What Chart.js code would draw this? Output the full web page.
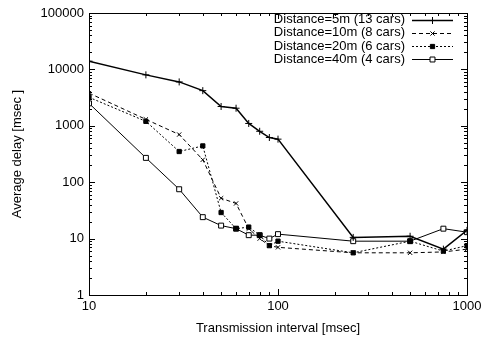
<!DOCTYPE html>
<html>
<head>
<meta charset="utf-8">
<script src="https://cdn.jsdelivr.net/npm/chart.js@4/dist/chart.umd.min.js"></script>
<style>
  html, body { margin: 0; padding: 0; background: #fff; }
  #wrap { width: 487px; height: 344px; }
</style>
</head>
<body>
<div id="wrap"><canvas id="delayChart" width="487" height="344"></canvas></div>
<script>
// transmission interval (msec)
var intervals = [10, 20, 30, 40, 50, 60, 70, 80, 90, 100, 250, 500, 750, 1000];
// average delay (msec) per distance
var delay5m  = [14000, 8000, 6000, 4200, 2200, 2050, 1100, 800, 620, 580, 10.5, 11, 6.5, 14];
var delay10m = [3800, 1300, 700, 250, 52, 42, 15, 10, 7.5, 7, 5.6, 5.6, 5.8, 6.5];
var delay20m = [3200, 1200, 350, 440, 29, 15, 16, 11.5, 7.5, 9, 5.6, 9, 6, 7.5];
var delay40m = [2500, 270, 75, 24, 17, 15, 11.5, 11.5, 10, 12, 9, 9, 15, 13];
var seriesLabels = ['Distance=5m (13 cars)', 'Distance=10m (8 cars)', 'Distance=20m (6 cars)', 'Distance=40m (4 cars)'];
var xTickValues = [10, 100, 1000];
var yTickValues = [1, 10, 100, 1000, 10000, 100000];

var FONT = { family: '"Liberation Sans", Arial, sans-serif', size: 13 };

function toPoints(ys) {
    return intervals.map(function(x, i) { return { x: x, y: ys[i] }; });
}

// inward ticks + frame, gnuplot style
var framePlugin = {
    id: 'frame',
    afterDatasetsDraw: function(chart) {
        var ctx = chart.ctx, a = chart.chartArea;
        var xs = chart.scales.x, ys = chart.scales.y;
        ctx.save();
        ctx.strokeStyle = '#000';
        ctx.lineWidth = 1;
        ctx.strokeRect(a.left + 0.5, a.top + 0.5, a.right - a.left, a.bottom - a.top);
        ctx.beginPath();
        for (var d = 10; d <= 1000; d *= 10) {
            for (var m = 1; m <= 9; m++) {
                var v = d * m;
                if (v > 1000) break;
                var px = Math.round(xs.getPixelForValue(v)) + 0.5;
                var len = m === 1 ? 6 : 3;
                ctx.moveTo(px, a.bottom); ctx.lineTo(px, a.bottom - len);
                ctx.moveTo(px, a.top); ctx.lineTo(px, a.top + len);
            }
        }
        for (var e = 1; e <= 100000; e *= 10) {
            for (var k = 1; k <= 9; k++) {
                var w = e * k;
                if (w > 100000) break;
                var py = Math.round(ys.getPixelForValue(w)) + 0.5;
                var l = k === 1 ? 6 : 3;
                ctx.moveTo(a.left, py); ctx.lineTo(a.left + l, py);
                ctx.moveTo(a.right, py); ctx.lineTo(a.right - l, py);
            }
        }
        ctx.stroke();
        ctx.restore();
    }
};

// legend at top right: text, then line sample with marker
var keyPlugin = {
    id: 'key',
    afterDatasetsDraw: function(chart) {
        var ctx = chart.ctx;
        var textRight = 405, x0 = 412, x1 = 453, y0 = 19.5, step = 13.3;
        ctx.save();
        ctx.font = FONT.size + 'px ' + FONT.family;
        ctx.textAlign = 'right';
        ctx.textBaseline = 'middle';
        chart.data.datasets.forEach(function(ds, i) {
            var y = y0 + i * step;
            ctx.fillStyle = '#000';
            ctx.fillText(ds.label, textRight, y);
            ctx.strokeStyle = '#000';
            ctx.lineWidth = ds.borderWidth;
            ctx.setLineDash(ds.borderDash || []);
            ctx.beginPath();
            ctx.moveTo(x0, Math.round(y) + 0.5);
            ctx.lineTo(x1, Math.round(y) + 0.5);
            ctx.stroke();
            ctx.setLineDash([]);
            ctx.fillStyle = ds.pointBackgroundColor;
            ctx.strokeStyle = '#000';
            ctx.lineWidth = 1;
            Chart.helpers.drawPoint(ctx, {
                pointStyle: ds.pointStyle, radius: ds.pointRadius,
                borderWidth: 1, rotation: 0
            }, (x0 + x1) / 2, Math.round(y) + 0.5);
        });
        ctx.restore();
    }
};

function makeSet(i, ys, width, dash, style, fill, radius) {
    return {
        label: seriesLabels[i],
        data: toPoints(ys),
        borderColor: '#000',
        borderWidth: width,
        borderDash: dash,
        pointStyle: style,
        pointRadius: radius,
        pointBorderWidth: 1,
        pointBorderColor: '#000',
        pointBackgroundColor: fill,
        tension: 0
    };
}

var ctx = document.getElementById('delayChart').getContext('2d');
var chart = new Chart(ctx, {
    type: 'line',
    data: {
        datasets: [
            makeSet(0, delay5m, 1.5, [], 'cross', '#000', 3.5),
            makeSet(1, delay10m, 1, [4, 3], 'crossRot', '#000', 3),
            makeSet(2, delay20m, 1, [2, 2], 'rect', '#000', 3),
            makeSet(3, delay40m, 1, [], 'rect', '#fff', 3.5)
        ]
    },
    options: {
        responsive: false,
        animation: false,
        devicePixelRatio: 1,
        layout: { padding: { top: 13, right: 20, left: 0, bottom: 0 } },
        plugins: { legend: { display: false }, tooltip: { enabled: false } },
        scales: {
            x: {
                type: 'logarithmic',
                min: 10, max: 1000,
                grid: { display: false, drawTicks: false },
                border: { display: false },
                afterBuildTicks: function(s) { s.ticks = xTickValues.map(function(v) { return { value: v }; }); },
                afterFit: function(s) { s.height = 49; },
                ticks: { color: '#000', font: FONT, padding: 4, autoSkip: false, maxRotation: 0,
                         callback: function(v) { return String(v); } },
                title: { display: true, text: 'Transmission interval [msec]', color: '#000', font: FONT,
                         padding: { top: 4, bottom: 8 } }
            },
            y: {
                type: 'logarithmic',
                min: 1, max: 100000,
                grid: { display: false, drawTicks: false },
                border: { display: false },
                afterBuildTicks: function(s) { s.ticks = yTickValues.map(function(v) { return { value: v }; }); },
                afterFit: function(s) { s.width = 89; },
                ticks: { color: '#000', font: FONT, padding: 5, autoSkip: false,
                         callback: function(v) { return String(v); } },
                title: { display: true, text: 'Average delay [msec ]', color: '#000', font: FONT,
                         padding: { top: 10, bottom: 8 } }
            }
        }
    },
    plugins: [framePlugin, keyPlugin]
});
</script>
</body>
</html>
